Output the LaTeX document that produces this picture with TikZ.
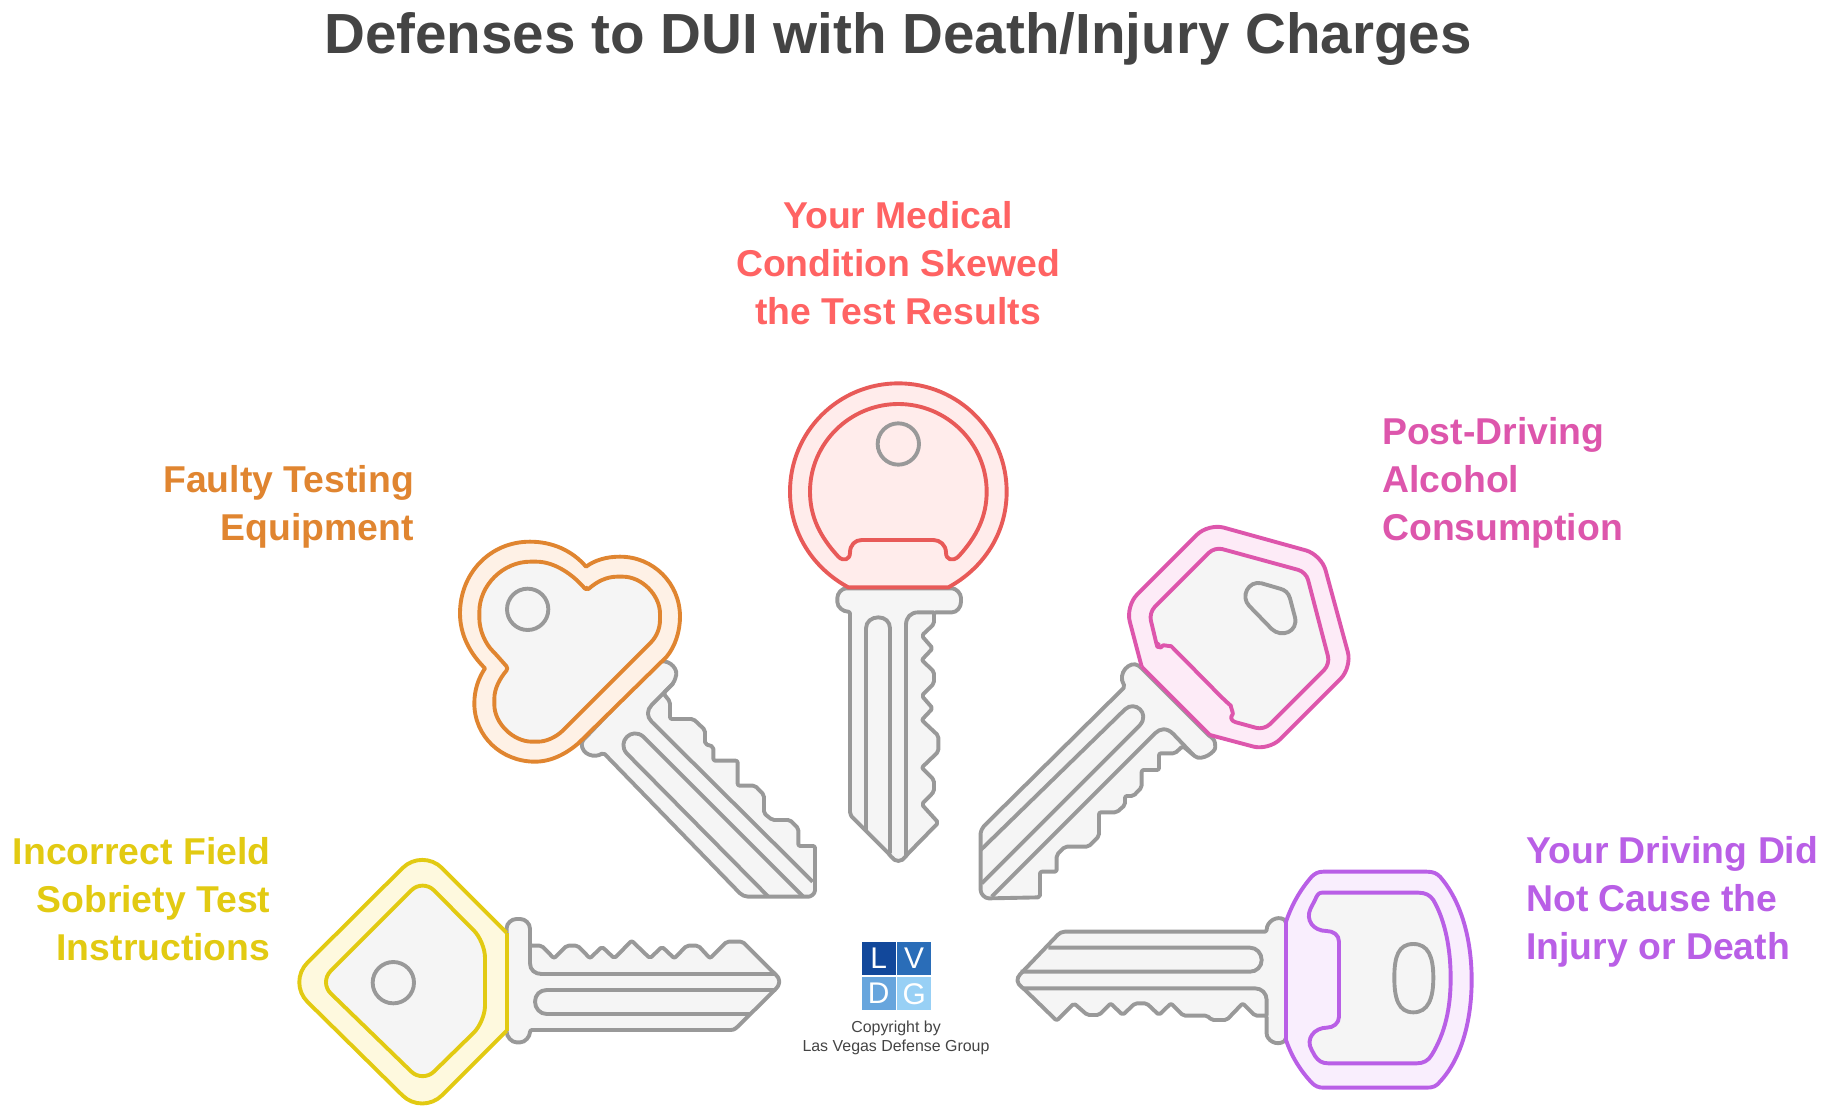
\documentclass[tikz,border=0pt]{standalone}
\usepackage{fontspec}
\setmainfont{Liberation Sans}
\definecolor{keygray}{HTML}{999999}
\definecolor{keyface}{HTML}{F5F5F5}
\definecolor{txtgray}{HTML}{444444}
\definecolor{yelline}{HTML}{E2CA12}
\definecolor{yelfill}{HTML}{FEF9DE}
\definecolor{orgline}{HTML}{E08530}
\definecolor{orgfill}{HTML}{FEF1E6}
\definecolor{redline}{HTML}{E85A58}
\definecolor{redtext}{HTML}{FF6363}
\definecolor{redfill}{HTML}{FFECEB}
\definecolor{pnkline}{HTML}{DD56AC}
\definecolor{pnkfill}{HTML}{FDEBF7}
\definecolor{purline}{HTML}{B95FE6}
\definecolor{purfill}{HTML}{F9EEFD}
\definecolor{logoa}{HTML}{12489B}
\definecolor{logob}{HTML}{2A6DB8}
\definecolor{logoc}{HTML}{67A5DD}
\definecolor{logod}{HTML}{98D0F5}

\begin{document}
\begin{tikzpicture}[
  x=1bp, y=-1bp,
  line join=round,
  shaftsty/.style={fill=keyface,draw=keygray,line width=3.9pt,rounded corners=2pt},
  grvsty/.style={draw=keygray,line width=3.9pt},
  headsty/.style={draw=#1line,fill=#1fill,line width=3.9pt},
  facesty/.style={draw=#1line,fill=keyface,line width=3.9pt},
  lblsty/.style={font=\fontsize{37.5}{48}\selectfont\bfseries,inner sep=0pt},
  logosty/.style={text=white,font=\fontsize{30}{30}\selectfont,inner sep=0pt}
]
\useasboundingbox (0,0) rectangle (1829,1113);

\node[font=\fontsize{56.8}{60}\selectfont\bfseries,text=txtgray,inner sep=0pt] (title) at (898,39) {Defenses to DUI with Death/Injury Charges};

% labels
\node[lblsty,text=redtext,align=center] (lblmed) at (898,263) {Your Medical\\Condition Skewed\\the Test Results};
\node[lblsty,text=pnkline,align=left,anchor=west] (lblpost) at (1382,483) {Post-Driving\\Alcohol\\Consumption};
\node[lblsty,text=orgline,align=right,anchor=east] (lblfaulty) at (414,507) {Faulty Testing\\Equipment};
\node[lblsty,text=yelline,align=right,anchor=east] (lblfield) at (270.6,899) {Incorrect Field\\Sobriety Test\\Instructions};
\node[lblsty,text=purline,align=left,anchor=west] (lblcause) at (1526,902) {Your Driving Did\\Not Cause the\\Injury or Death};

% yellow key
\begin{scope}[shift={(280,840)},scale=1/3]
  \draw[shaftsty] (680,270) .. controls (680,250) and (695,237) .. (715,237) .. controls (735,237) and (750,250) .. (750,272)
    -- (750,317) -- (785,317) -- (822,355) -- (860,317) -- (893,317) -- (930,355) -- (966,320) -- (1003,355) -- (1055,302)
    -- (1110,355) -- (1146,320) -- (1183,355) -- (1220,317) -- (1255,317) -- (1290,355) -- (1340,305) -- (1388,305)
    -- (1482,399) .. controls (1502,418) and (1502,432) .. (1482,452) -- (1375,558) .. controls (1362,570) and (1355,570) .. (1345,570)
    -- (750,570) .. controls (750,590) and (735,607) .. (715,607) .. controls (695,607) and (680,590) .. (680,570) -- cycle;
  \draw[grvsty] (750,272) -- (750,370) .. controls (750,390) and (765,402) .. (785,402) -- (1483,402);
  \draw[grvsty] (1488,450) -- (800,450) .. controls (780,450) and (765,465) .. (765,485) .. controls (765,505) and (780,522) .. (800,522) -- (1410,522);
  \draw[headsty=yel,rounded corners=28pt] (680,278) -- (427,25) -- (23,427) -- (427,825) -- (680,572);
  \draw[headsty=yel] (680,278) -- (680,572);
  \draw[facesty=yel,rounded corners=16pt] (428,117) -- (615,305) -- (615,545) -- (428,728) -- (118,427) -- cycle;
  \draw[grvsty] (340,428) circle [radius=62];
\end{scope}

% orange key
\begin{scope}[shift={(440,520)},scale=1/3]
  \draw[shaftsty] (650,430) .. controls (680,415) and (712,440) .. (708,470) -- (700,490) -- (670,520) -- (690,545) -- (690,597) -- (760,597) -- (795,630) -- (795,672)
    -- (820,680) -- (820,722) -- (893,722) -- (893,797) -- (945,797) -- (972,825) -- (972,880) -- (997,900) -- (1050,900)
    -- (1075,925) -- (1075,978) -- (1125,978) -- (1125,1105) .. controls (1125,1122) and (1112,1130) .. (1100,1130) -- (930,1130) .. controls (915,1130) and (905,1125) .. (895,1115)
    -- (490,698) .. controls (465,715) and (425,705) .. (425,665) -- cycle;
  \draw[grvsty] (700,490) -- (635,555) .. controls (620,570) and (620,590) .. (635,605) -- (1118,1085);
  \draw[grvsty] (985,1130) -- (560,700) .. controls (530,665) and (575,620) .. (610,650) -- (1090,1130);
  \draw[headsty=org] (438,140) .. controls (395,90) and (335,65) .. (270,65) .. controls (150,65) and (60,160) .. (60,280)
    .. controls (60,345) and (90,400) .. (135,445) .. controls (115,475) and (103,510) .. (103,550)
    .. controls (103,650) and (185,725) .. (285,725) .. controls (335,725) and (380,700) .. (415,670) -- (680,410)
    .. controls (705,380) and (720,335) .. (720,290) .. controls (720,190) and (640,110) .. (540,110)
    .. controls (500,110) and (465,120) .. (438,140) -- cycle;
  \draw[facesty=org,rounded corners=3pt] (440,212) .. controls (400,165) and (345,125) .. (280,125) .. controls (190,125) and (118,195) .. (118,285)
    .. controls (118,330) and (135,370) .. (165,400) -- (205,445) .. controls (180,475) and (163,505) .. (163,545)
    .. controls (163,610) and (220,665) .. (285,665) .. controls (320,665) and (350,650) .. (375,625) -- (625,375)
    .. controls (650,350) and (660,325) .. (660,290) .. controls (660,225) and (605,170) .. (540,170)
    .. controls (500,170) and (470,185) .. (440,212) -- cycle;
  \draw[grvsty] (263,268) circle [radius=62];
\end{scope}

% red key
\begin{scope}[shift={(770,370)},scale=1/3]
  \draw[shaftsty] (235,655) .. controls (215,655) and (202,670) .. (202,690) .. controls (202,712) and (220,725) .. (240,725)
    -- (240,1320) .. controls (240,1332) and (245,1340) .. (250,1345) -- (360,1455) .. controls (375,1477) and (395,1477) .. (410,1455)
    -- (505,1358) -- (455,1303) -- (492,1265) -- (492,1230) -- (455,1193) -- (505,1145) -- (505,1097) -- (455,1050) -- (488,1015)
    -- (455,977) -- (492,940) -- (492,905) -- (455,870) -- (488,835) -- (455,797) -- (492,762) -- (492,727)
    -- (540,727) .. controls (560,727) and (573,712) .. (573,690) .. controls (573,670) and (558,655) .. (540,655) -- cycle;
  \draw[grvsty] (288,1385) -- (288,775) .. controls (288,755) and (305,742) .. (325,742) .. controls (345,742) and (360,755) .. (360,775) -- (360,1450);
  \draw[grvsty] (408,1455) -- (408,765) .. controls (408,742) and (422,727) .. (445,727) -- (492,727);
  \draw[headsty=red] (235,652) .. controls (130,595) and (60,490) .. (60,365) .. controls (60,185) and (205,40) .. (385,40)
    .. controls (565,40) and (710,185) .. (710,365) .. controls (710,490) and (640,595) .. (535,652) -- cycle;
  \draw[headsty=red] (205,560) .. controls (150,500) and (120,440) .. (120,365) .. controls (120,220) and (240,102) .. (385,102)
    .. controls (530,102) and (650,220) .. (650,365) .. controls (650,440) and (620,500) .. (565,560)
    .. controls (548,575) and (528,570) .. (528,548) .. controls (528,525) and (510,510) .. (490,510) -- (275,510)
    .. controls (255,510) and (240,525) .. (240,548) .. controls (240,570) and (220,575) .. (205,560) -- cycle;
  \draw[grvsty] (385,222) circle [radius=62];
\end{scope}

% pink key
\begin{scope}[shift={(960,510)},scale=1/3]
  \draw[shaftsty] (540,470) .. controls (510,450) and (470,490) .. (495,530) -- (75,945) .. controls (66,955) and (62,965) .. (62,975) -- (62,1135)
    .. controls (62,1152) and (75,1165) .. (92,1165) -- (240,1162) -- (240,1085) -- (290,1085) -- (290,1035) -- (315,1010) -- (385,1010) -- (417,978)
    -- (417,907) -- (470,907) -- (495,885) -- (495,858) -- (520,858) -- (545,832) -- (545,780) -- (597,780) -- (597,730)
    -- (645,730) -- (668,708) -- (700,735) .. controls (725,755) and (768,725) .. (765,705) .. controls (765,695) and (760,685) .. (750,680) -- cycle;
  \draw[grvsty] (700,735) -- (640,672) .. controls (620,652) and (600,655) .. (585,670) -- (95,1160);
  \draw[grvsty] (62,1020) -- (495,598) .. controls (525,570) and (570,610) .. (540,645) -- (65,1120);
  \draw[headsty=pnk,rounded corners=16pt] (545,470) -- (497,288) -- (745,40) -- (1084,134) -- (1176,472) -- (926,722) -- (750,675);
  \draw[headsty=pnk] (545,470) -- (750,675);
  \draw[facesty=pnk,rounded corners=8pt] (595,425) -- (567,308) -- (764,111) -- (1038,186) -- (1110,462) -- (912,660) -- (803,630)
    .. controls (820,610) and (810,585) .. (795,572) -- (650,425) .. controls (635,410) and (610,405) .. (595,425) -- cycle;
  \draw[grvsty] (868,288) -- (935,357) .. controls (965,385) and (1015,365) .. (1005,322) -- (990,265) .. controls (985,248) and (975,240) .. (960,236)
    -- (905,220) .. controls (865,210) and (840,260) .. (868,288) -- cycle;
\end{scope}

% purple key
\begin{scope}[shift={(1000,850)},scale=1/3]
  \draw[shaftsty] (858,212) .. controls (830,195) and (800,215) .. (800,245) -- (200,245) .. controls (185,245) and (178,250) .. (170,258)
    -- (65,368) .. controls (48,385) and (50,400) .. (70,415) -- (170,512) -- (222,460) -- (262,495) -- (297,495) -- (332,460) -- (368,495)
    -- (405,460) -- (440,460) -- (477,495) -- (513,460) -- (550,497) -- (622,497) -- (635,510) -- (680,510) -- (728,460) -- (765,497) -- (800,497)
    -- (800,545) .. controls (800,570) and (830,590) .. (858,570) -- cycle;
  \draw[grvsty] (145,293) -- (750,293) .. controls (770,293) and (785,310) .. (785,330) .. controls (785,350) and (770,365) .. (750,365) -- (62,365);
  \draw[grvsty] (70,415) -- (765,415) .. controls (785,415) and (800,430) .. (800,450) -- (800,497);
  \draw[headsty=pur] (858,215) .. controls (875,165) and (900,120) .. (935,80) .. controls (945,70) and (955,65) .. (970,65) -- (1280,65)
    .. controls (1300,65) and (1310,70) .. (1320,80) .. controls (1385,155) and (1415,270) .. (1415,390) .. controls (1415,510) and (1385,625) .. (1320,695)
    .. controls (1310,708) and (1300,713) .. (1280,713) -- (970,713) .. controls (955,713) and (945,708) .. (935,698)
    .. controls (900,660) and (875,620) .. (858,570) -- cycle;
  \draw[facesty=pur] (965,128) -- (1255,128) .. controls (1275,128) and (1290,135) .. (1300,150) .. controls (1335,210) and (1352,295) .. (1352,385)
    .. controls (1352,475) and (1335,550) .. (1295,615) .. controls (1285,632) and (1270,640) .. (1250,640) -- (985,640)
    .. controls (965,640) and (955,632) .. (945,618) -- (935,600) .. controls (915,565) and (945,533) .. (980,533) .. controls (1000,533) and (1017,520) .. (1017,500)
    -- (1017,275) .. controls (1017,255) and (1000,243) .. (980,243) .. controls (940,243) and (915,210) .. (932,175) -- (945,150) .. controls (950,138) and (955,128) .. (965,128) -- cycle;
  \draw[grvsty] (1240,282) .. controls (1285,282) and (1300,320) .. (1300,383) .. controls (1300,445) and (1285,487) .. (1240,487)
    .. controls (1195,487) and (1183,445) .. (1183,383) .. controls (1183,320) and (1195,282) .. (1240,282) -- cycle;
\end{scope}

% logo
\fill[logoa] (861.7,941.7) rectangle (895.7,975);
\fill[logob] (897.3,941.7) rectangle (931,975);
\fill[logoc] (861.7,977.3) rectangle (895.7,1010);
\fill[logod] (897.3,977.3) rectangle (931,1010);
\node[logosty] (logoL) at (878.7,958.3) {L};
\node[logosty] (logoV) at (914.2,958.3) {V};
\node[logosty] (logoD) at (878.7,993.7) {D};
\node[logosty] (logoG) at (914.2,993.7) {G};
\node[text=txtgray,font=\fontsize{16}{19.2}\selectfont,align=center,inner sep=0pt] (copy) at (896,1038) {Copyright by\\Las Vegas Defense Group};
\end{tikzpicture}
\end{document}
